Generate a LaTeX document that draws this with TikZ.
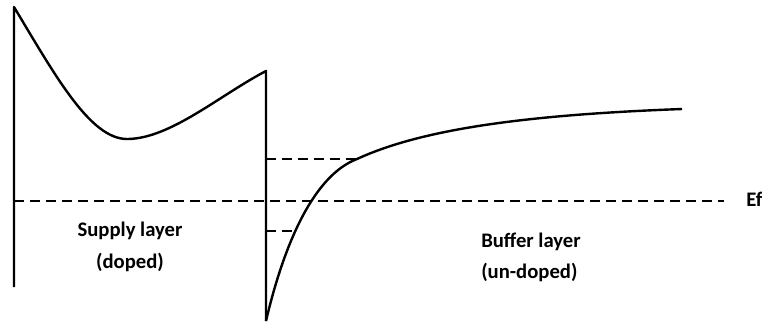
\documentclass[tikz,border=0pt]{standalone}
\usepackage{fontspec}
\setmainfont{Carlito}
\usepackage{tikz}

\begin{document}
\begin{tikzpicture}[x=0.75pt, y=-0.75pt,
        band/.style={line width=1.8pt, line join=round},
        level/.style={line width=1.8pt, dash pattern=on 7.5pt off 4.5pt},
        lbl/.style={font=\bfseries\fontsize{15.5}{17}\selectfont, inner sep=0pt}]
    \useasboundingbox (0,0) rectangle (762,326);

    % supply layer
    \coordinate (stop) at (14,7);
    \coordinate (sbot) at (14,287);
    \coordinate (smin) at (127,139);
    \coordinate (speak) at (266,71);
    \coordinate (bbot) at (266,321);
    \draw[band] (sbot) -- (stop) .. controls (55,75) and (90,139) .. (smin)
        .. controls (170,139) and (220,95) .. (speak) -- (bbot);

    % buffer layer
    \coordinate (knee) at (357,159);
    \coordinate (bend) at (682,109);
    \draw[band] (bbot) .. controls (285,240) and (315,175) .. (knee)
        .. controls (420,130) and (520,115) .. (bend);

    % levels
    \coordinate (efa) at (14,201);
    \coordinate (efb) at (724,201);
    \coordinate (upa) at (266,159);
    \coordinate (loa) at (266,231);
    \coordinate (lob) at (293,231);
    \draw[level] (efa) -- (efb);
    \draw[level] (upa) -- (knee);
    \draw[level] (loa) -- (lob);

    \node[lbl, anchor=west] (ef) at (746,199) {Ef};
    \node[lbl] (supply) at (130,231) {Supply layer};
    \node[lbl] (doped) at (130,262) {(doped)};
    \node[lbl, anchor=west] (buffer) at (481,242) {Buffer layer};
    \node[lbl, anchor=west] (undoped) at (481,272) {(un-doped)};
\end{tikzpicture}
\end{document}
